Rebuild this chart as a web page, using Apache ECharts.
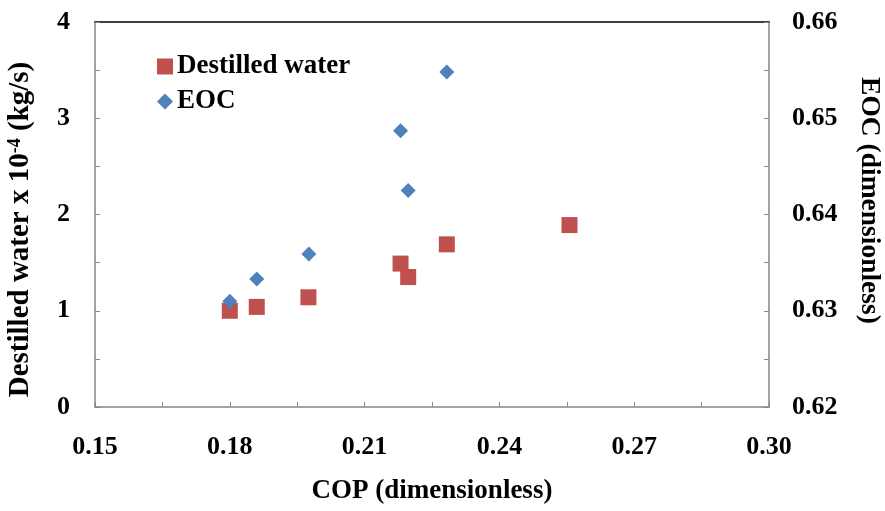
<!DOCTYPE html>
<html><head><meta charset="utf-8">
<script src="https://cdn.jsdelivr.net/npm/echarts@6/dist/echarts.min.js"></script>
<style>html,body{margin:0;padding:0;background:#fff}#c{width:885px;height:511px}</style>
</head><body><div id="c"></div>
<script>
const waterCOP = [0.180, 0.186, 0.1975, 0.218, 0.2197, 0.2283, 0.2556];
const waterVal = [1.00, 1.04, 1.14, 1.49, 1.35, 1.69, 1.89];
const eocCOP = [0.180, 0.186, 0.1976, 0.218, 0.2197, 0.2283];
const eocVal = [0.6310, 0.6333, 0.6359, 0.6487, 0.6425, 0.6548];
const xTicks = {min: 0.15, max: 0.30, interval: 0.03};
const leftTicks = {min: 0, max: 4, interval: 1};
const rightTicks = {min: 0.62, max: 0.66, interval: 0.01};

const font = 'Liberation Serif';
const gray = '#868686';
const chart = echarts.init(document.getElementById('c'));
const lbl = {fontFamily: font, fontWeight: 'bold', fontSize: 26, color: '#000'};
chart.setOption({
  animation: false,
  grid: {left: 95, right: 116, top: 22, bottom: 104, outerBoundsMode: 'none', containLabel: false},
  legend: {
    orient: 'vertical', left: 152, top: 48, itemGap: 8,
    itemWidth: 16, itemHeight: 16,
    textStyle: {fontFamily: font, fontWeight: 'bold', fontSize: 27, color: '#000', padding: [0,0,0,-1]},
    data: [{name: 'Destilled water', icon: 'rect'}, {name: 'EOC', icon: 'diamond'}]
  },
  xAxis: [{
    type: 'value', min: xTicks.min, max: xTicks.max, interval: xTicks.interval,
    name: 'COP (dimensionless)', nameLocation: 'middle', nameGap: 71,
    nameTextStyle: Object.assign({}, lbl, {fontSize: 27}),
    axisLine: {lineStyle: {color: gray, width: 1.5}},
    axisTick: {inside: true, length: 5, lineStyle: {color: gray}},
    minorTick: {show: true, splitNumber: 2, length: 5, lineStyle: {color: gray}},
    splitLine: {show: false},
    axisLabel: Object.assign({margin: 27, formatter: v => v.toFixed(2)}, lbl)
  }, {
    type: 'value', position: 'top', min: xTicks.min, max: xTicks.max,
    axisLine: {show: true, lineStyle: {color: '#000', width: 1.5}},
    axisTick: {show: false}, axisLabel: {show: false}, splitLine: {show: false}
  }],
  yAxis: [{
    type: 'value', min: leftTicks.min, max: leftTicks.max, interval: leftTicks.interval,
    name: 'Destilled water x 10{sup|-4} (kg/s)', nameLocation: 'middle', nameGap: 60, nameRotate: 90,
    nameTextStyle: Object.assign({}, lbl, {fontSize: 29, padding: [0, 30, 0, 0],
      rich: {sup: {fontFamily: font, fontWeight: 'bold', fontSize: 18, color: '#000', padding: [0,0,10,0]}}}),
    axisLine: {show: true, lineStyle: {color: gray, width: 1.5}},
    axisTick: {show: true, inside: true, length: 5, lineStyle: {color: gray}},
    minorTick: {show: true, splitNumber: 2, length: 5, lineStyle: {color: gray}},
    splitLine: {show: false},
    axisLabel: Object.assign({margin: 25}, lbl)
  }, {
    type: 'value', position: 'right', min: rightTicks.min, max: rightTicks.max, interval: rightTicks.interval,
    name: 'EOC (dimensionless)', nameLocation: 'middle', nameGap: 86, nameRotate: -90,
    nameTextStyle: Object.assign({}, lbl, {fontSize: 27.5, padding: [0, 28, 0, 0]}),
    axisLine: {show: true, lineStyle: {color: gray, width: 1.5}},
    axisTick: {show: true, inside: true, length: 5, lineStyle: {color: gray}},
    minorTick: {show: true, splitNumber: 2, length: 5, lineStyle: {color: gray}},
    splitLine: {show: false},
    axisLabel: Object.assign({margin: 23, formatter: v => v.toFixed(2)}, lbl)
  }],
  series: [{
    name: 'Destilled water', type: 'scatter', yAxisIndex: 0, symbol: 'rect', symbolSize: 16,
    itemStyle: {color: '#C0504D', opacity: 1},
    data: waterCOP.map((x, i) => [x, waterVal[i]])
  }, {
    name: 'EOC', type: 'scatter', yAxisIndex: 1, symbol: 'diamond', symbolSize: 15,
    itemStyle: {color: '#4F81BD', opacity: 1},
    data: eocCOP.map((x, i) => [x, eocVal[i]])
  }]
});
</script></body></html>
